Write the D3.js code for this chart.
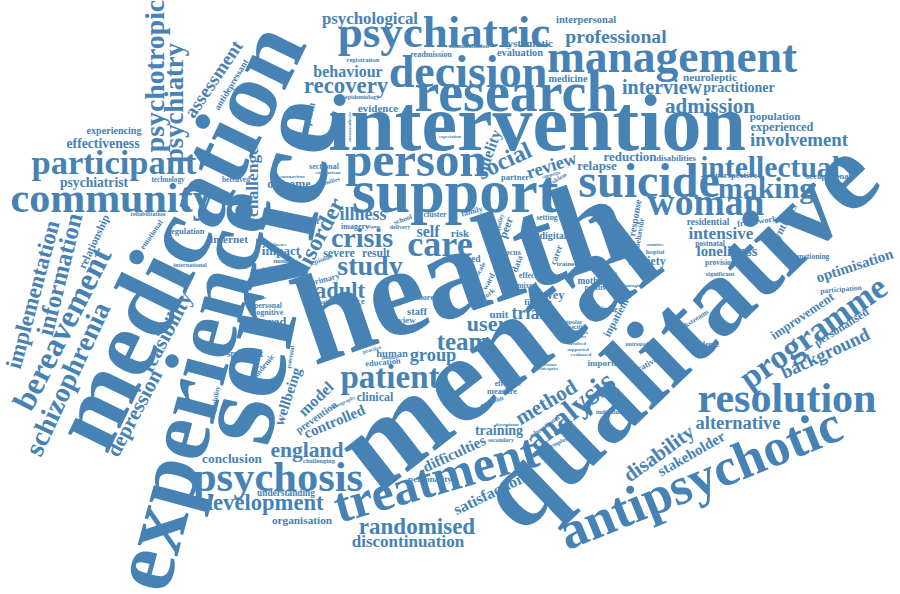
<!DOCTYPE html>
<html>
<head>
<meta charset="utf-8">
<script src="https://cdn.jsdelivr.net/npm/d3@7"></script>
<style>
  body { margin: 0; background: #fff; }
  svg { display: block; }
</style>
</head>
<body>
<svg id="chart"></svg>
<script>
// words of the cloud, largest first
const words = [
  "health", "mental", "qualitative", "service", "medication", "experience", "intervention", "support",
  "research", "treatment", "antipsychotic", "psychiatric", "decision", "management", "person", "suicide",
  "community", "resolution", "psychosis", "participant", "programme", "intellectual", "woman", "making",
  "patient", "analysis", "bereavement", "schizophrenia", "information", "implementation", "psychotropic", "psychiatry",
  "care", "crisis", "study", "disorder", "adult", "team", "user", "recovery",
  "development", "randomised", "england", "method", "disability", "admission", "interview", "professional",
  "depression", "feasibility", "assessment", "background", "involvement", "alternative", "social", "review",
  "illness", "trial", "group", "challenge", "intensive", "discontinuation", "psychological", "behaviour",
  "satisfaction", "self", "fidelity", "model", "optimisation", "stakeholder", "controlled", "difficulties",
  "wellbeing", "loneliness", "practitioner", "training", "effectiveness", "psychiatrist", "conclusion", "impact",
  "reduction", "relapse", "improvement", "shared", "experienced", "survey", "outcome", "severe",
  "anxiety", "clinical", "result", "personalised", "relationship", "systematic", "organisation", "interpersonal",
  "neuroleptic", "internet", "synthesis", "evidence", "inpatient", "peer", "risk", "unit",
  "population", "symptom", "evaluation", "medicine", "prevention", "human", "staff", "experiencing",
  "digital", "response", "survivor", "need", "specialist", "mother", "understanding", "personality",
  "antidepressant", "residential", "view", "finding", "carer", "data", "important", "disabilities",
  "perspective", "narrative", "regulation", "partner", "primary", "framework", "education", "occupational",
  "measure", "readmission", "behavior", "emotional", "cluster", "family", "focus", "effect",
  "more", "cognitive", "pandemic", "imagery", "sectional", "reduce", "attitude", "effective",
  "positive", "personal", "postnatal", "provision", "functioning", "participation", "confidence", "setting",
  "mixed", "technology", "bereaved", "acceptability", "number", "national", "trainee", "scale",
  "ward", "work", "workstreams", "studies", "emotion", "educational", "related", "episode",
  "school", "registration", "significant", "challenging", "individual", "rehabilitation", "international", "discharge",
  "potential", "quality", "problem", "secondary", "employment", "communication", "epidemiology", "bipolar",
  "specific", "general", "delivery", "families", "hospital", "untreated", "adolescence", "practice",
  "metasynthesis", "comparison", "contagion", "complex", "involved", "supported", "evaluated", "approach",
  "stigma", "journey", "ethnography", "determinant", "expectation", "campaign", "literature", "enterprise",
  "influence", "complexity", "student", "diagnosis", "objective", "committee", "coronavirus"
];

// relative weight of each word (same order)
const freq = [
  128, 125, 111, 118, 97, 90, 80, 62,
  56, 50, 53, 45, 46, 45.5, 49, 48,
  42, 42, 42.5, 34.5, 34, 29.6, 37.6, 30,
  33, 31, 32.5, 28, 24.5, 22.7, 27.8, 26.7,
  36, 28, 28, 23.5, 22.5, 25, 22, 22.8,
  22.6, 23, 21.5, 21, 20.7, 21, 20, 19.7,
  21, 21, 19, 18.6, 18.8, 18.4, 24, 18.4,
  18, 18, 18.4, 17.5, 17.2, 17, 16.8, 16,
  16, 16, 15.6, 16, 15, 15, 15, 15,
  14.8, 14.8, 14, 14, 13.7, 13.6, 13.3, 13,
  13, 13, 12.9, 12.8, 12.3, 12.4, 12, 12,
  12, 12, 11.5, 11.6, 11.4, 11.3, 11.3, 10.5,
  11.2, 11.2, 11.2, 11, 11, 11.5, 11, 11,
  11, 10.4, 10.4, 10.2, 10.5, 10.5, 10.5, 10.1,
  10, 10, 9.5, 9.5, 9.3, 9.3, 9.3, 9.2,
  9.2, 9.5, 9, 9, 9, 9, 9, 8.7,
  8.7, 8.5, 8.5, 8.5, 8.5, 8.4, 8.5, 8.3,
  8.3, 8.1, 8, 8, 8, 8, 8, 8,
  8, 8, 8, 8, 8, 8, 7.5, 7.5,
  7.7, 7.5, 7.5, 7.5, 7.5, 7.5, 7.5, 7.5,
  7.5, 7.2, 7.2, 7, 7, 7, 7, 7,
  8, 7, 7, 7, 7, 7, 7, 7,
  7, 6.6, 6.5, 6.5, 6.5, 6, 6, 6,
  6, 6, 6, 6, 6, 6, 6, 6,
  6, 6, 6, 6, 5.5, 5.5, 5.5, 5.5,
  5, 5, 5, 5, 5, 5, 5, 5,
  5, 5, 5, 4.5, 4.5, 4.5, 4.5, 4.5,
  4.5, 4.5, 4.5, 4.5, 4, 4, 5
];

// cloud layout: [centre x, centre y, rotation in degrees]
const placement = [
  [466,282,-19], [504,360,-38], [685,342,-44], [278,273,-78], [187,240,-64], [200,392,-75], [537,132,0], [455,198,0],
  [516,98,0], [437,483,-16], [702,483,-22], [444,37,0], [468,76,0], [672,62,0], [416,165,0], [649,186,0],
  [112,202,0], [787,402,0], [278,481,0], [114,166,0], [815,335,-35], [770,170,0], [706,206,0], [766,191,0],
  [390,380,0], [572,413,-39], [65,330,-63], [70,380,-65], [62,275,-76], [35,295,-75], [158,76,-90], [177,103,-90],
  [440,248,0], [362,241,0], [370,269,0], [320,238,-62], [340,293,0], [463,344,0], [487,326,0], [346,88,0],
  [262,505,0], [417,529,0], [307,452,0], [547,404,-31], [660,455,-36], [710,108,0], [662,89,0], [616,38,0],
  [136,414,-62], [168,333,-62], [215,80,-56], [826,355,-25], [799,142,0], [738,425,0], [505,163,-25], [552,167,-18],
  [363,216,0], [528,315,0], [433,357,0], [254,182,-90], [721,235,0], [408,543,0], [370,20,0], [348,73,0],
  [490,495,-26], [428,233,0], [490,153,-70], [317,400,-44], [855,267,-18], [692,455,-30], [335,423,-23], [455,455,-25],
  [289,397,-72], [727,253,0], [739,89,0], [499,432,0], [103,145,0], [94,184,0], [232,460,0], [281,252,0],
  [630,158,0], [597,167,0], [803,317,-34], [268,323,0], [782,128,0], [547,296,0], [289,185,0], [339,254,0],
  [647,262,0], [375,398,0], [376,254,0], [842,328,-32], [95,242,-65], [528,44,0], [302,521,0], [586,21,0],
  [710,78,0], [229,240,0], [785,224,-62], [378,109,0], [617,318,-62], [507,228,-70], [460,234,0], [499,315,0],
  [775,117,0], [308,123,-76], [520,54,0], [568,80,0], [317,418,-35], [392,355,0], [417,313,0], [114,132,0],
  [553,237,0], [636,218,-80], [303,222,0], [471,260,0], [245,355,0], [592,282,0], [286,494,0], [430,480,0],
  [232,85,-59], [708,223,0], [407,321,0], [538,303,0], [557,255,-70], [518,264,-70], [607,364,0], [676,159,0],
  [736,176,0], [642,368,-30], [186,232,0], [515,178,0], [325,280,-15], [757,222,-8], [383,363,-5], [828,177,0],
  [502,392,0], [431,55,0], [640,233,-80], [152,235,-55], [435,215,0], [472,212,-15], [512,253,0], [528,276,0],
  [425,298,0], [268,313,0], [263,368,-50], [355,227,0], [324,167,0], [353,302,0], [605,310,0], [508,384,0],
  [597,288,0], [268,306,0], [710,244,0], [720,263,0], [811,257,0], [841,290,-5], [702,345,0], [547,218,0],
  [527,286,0], [168,180,0], [236,180,0], [215,405,-80], [285,261,0], [315,302,0], [567,264,0], [481,269,-60],
  [489,282,-60], [488,295,-40], [692,322,-33], [607,273,0], [492,402,-20], [545,427,-35], [404,329,0], [322,260,-20],
  [403,220,-20], [363,60,0], [720,274,0], [319,461,0], [610,412,0], [148,215,0], [190,266,0], [274,219,0],
  [291,357,-80], [500,223,-75], [557,180,-30], [501,441,0], [565,440,-25], [469,47,0], [362,98,0], [573,323,0],
  [575,328,0], [357,313,-70], [400,228,0], [330,182,-15], [655,253,0], [637,345,0], [270,331,0], [372,350,-15],
  [350,127,-90], [328,173,0], [633,286,0], [579,333,0], [577,344,0], [578,350,0], [581,355,0], [537,355,-70],
  [373,227,0], [390,358,0], [343,403,-25], [507,425,0], [450,137,0], [551,175,-15], [548,365,0], [549,369,0],
  [278,245,0], [263,269,-10], [270,273,0], [257,298,0], [579,337,0], [655,245,0], [292,177,0]
];

const width = 900, height = 594;

const svg = d3.select("#chart")
  .attr("width", width)
  .attr("height", height);

const x = d3.scaleLinear().domain([0, 900]).range([0, width]);
const y = d3.scaleLinear().domain([0, 594]).range([0, height]);
const size = d3.scaleLinear().domain([0, d3.max(freq)]).range([0, d3.max(freq)]);

const data = words.map((w, i) => ({
  text: w,
  value: freq[i],
  cx: placement[i][0],
  cy: placement[i][1],
  angle: placement[i][2]
}));

svg.append("g")
  .selectAll("text")
  .data(data)
  .join("text")
  .attr("transform", d => `translate(${x(d.cx)},${y(d.cy)}) rotate(${d.angle})`)
  .attr("text-anchor", "middle")
  .attr("dy", "0.23em")
  .style("font-family", "'Liberation Serif', 'Times New Roman', serif")
  .style("font-weight", "bold")
  .style("font-size", d => size(d.value) + "px")
  .style("fill", "#4682b4")
  .text(d => d.text);
</script>
</body>
</html>
